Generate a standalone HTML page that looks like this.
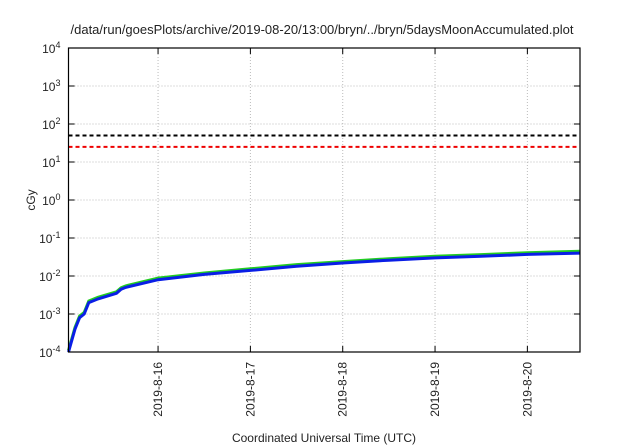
<!DOCTYPE html>
<html><head><meta charset="utf-8"><style>
body{margin:0;background:#fff;}
svg{display:block;font-family:"Liberation Sans",sans-serif;}
</style></head><body>
<svg id="chart" width="640" height="448">
<text x="322" y="34" font-size="13" text-anchor="middle" fill="#222">/data/run/goesPlots/archive/2019-08-20/13:00/bryn/../bryn/5daysMoonAccumulated.plot</text>
<text transform="translate(35,200) rotate(-90)" font-size="12" text-anchor="middle" fill="#222">cGy</text>
<text x="324" y="442" font-size="12" text-anchor="middle" fill="#222">Coordinated Universal Time (UTC)</text>
<g id="grid"></g>
<g id="marks"></g>
<g id="axes"></g>
</svg>
<script>
const yTickExps=[-4,-3,-2,-1,0,1,2,3,4];
const xTickDays=[1,2,3,4,5];
const xTickLabels=["2019-8-16","2019-8-17","2019-8-18","2019-8-19","2019-8-20"];
const times=[0.03,0.10,0.15,0.20,0.25,0.35,0.55,0.60,0.65,1.0,1.5,2.0,2.5,3.0,3.5,4.0,4.5,5.0,5.57];
const blueVals=[1e-4,4e-4,8e-4,1e-3,2e-3,2.5e-3,3.5e-3,4.5e-3,5e-3,8e-3,1.1e-2,1.4e-2,1.8e-2,2.2e-2,2.6e-2,3e-2,3.3e-2,3.7e-2,4e-2];
const greenVals=[1.1e-4,4.4e-4,8.8e-4,1.1e-3,2.2e-3,2.75e-3,3.85e-3,4.9e-3,5.5e-3,8.8e-3,1.2e-2,1.55e-2,2e-2,2.4e-2,2.85e-2,3.3e-2,3.65e-2,4.1e-2,4.5e-2];
const thresholds=[50,25];
const thresholdColors=["#000","#e00"];
const L=68.5,R=580,T=48,B=352,d0=0.03,d1=5.57;
const NS="http://www.w3.org/2000/svg";
function xs(d){return L+(d-d0)/(d1-d0)*(R-L);}
function ys(v){return T+(4-Math.log10(v))/8*(B-T);}
function mk(tag,attrs,parent,txt){const e=document.createElementNS(NS,tag);for(const k in attrs)e.setAttribute(k,attrs[k]);if(txt!==undefined)e.textContent=txt;parent.appendChild(e);return e;}
const grid=document.getElementById('grid'),marks=document.getElementById('marks'),axes=document.getElementById('axes');
yTickExps.forEach(e=>{const y=ys(Math.pow(10,e));
 if(e>-4&&e<4){const g=mk('line',{x1:L,x2:R,y1:y,y2:y,stroke:'#bbb','stroke-dasharray':'1,2'},grid);
 
 }
 const t1=mk('line',{x1:L,x2:L+6,y1:y,y2:y,stroke:'#000'},axes);
 
 
 const t2=mk('line',{x1:R-6,x2:R,y1:y,y2:y,stroke:'#000'},axes);
 
 
 const tx=mk('text',{x:L-8,y:y+5,'font-size':12,'text-anchor':'end',fill:'#222'},axes);
 
 
 tx.appendChild(document.createTextNode('10'));
 mk('tspan',{dy:-5,'font-size':9},tx,String(e));
});
xTickDays.forEach((d,i)=>{const x=xs(d);
 const g=mk('line',{x1:x,x2:x,y1:T,y2:B,stroke:'#bbb','stroke-dasharray':'1,2'},grid);
 
 
 const t=mk('line',{x1:x,x2:x,y1:B-6,y2:B,stroke:'#000'},axes);
 
 
 const t2=mk('line',{x1:x,x2:x,y1:T,y2:T+6,stroke:'#000'},axes);
 
 
 const tx=mk('text',{transform:`translate(${x+4},${B+10}) rotate(-90)`,'font-size':12,'text-anchor':'end',fill:'#222'},axes,xTickLabels[i]);
 
 
});
thresholds.forEach((v,i)=>{const y=ys(v);
 const l=mk('line',{x1:L,x2:R,y1:y,y2:y,stroke:thresholdColors[i],'stroke-width':2,'stroke-dasharray':'4,3'},marks);
 
 
});
function path(vals){return times.map((d,i)=>(i?'L':'M')+xs(d).toFixed(1)+','+ys(vals[i]).toFixed(1)).join('');}
const gp=mk('path',{d:path(greenVals),fill:'none',stroke:'#22cc22','stroke-width':3},marks);


const bp=mk('path',{d:path(blueVals),fill:'none',stroke:'#0a1ee6','stroke-width':3},marks);


const fr=mk('rect',{x:L,y:T,width:R-L,height:B-T,fill:'none',stroke:'#000','stroke-width':1.2},axes);


</script>
</body></html>
